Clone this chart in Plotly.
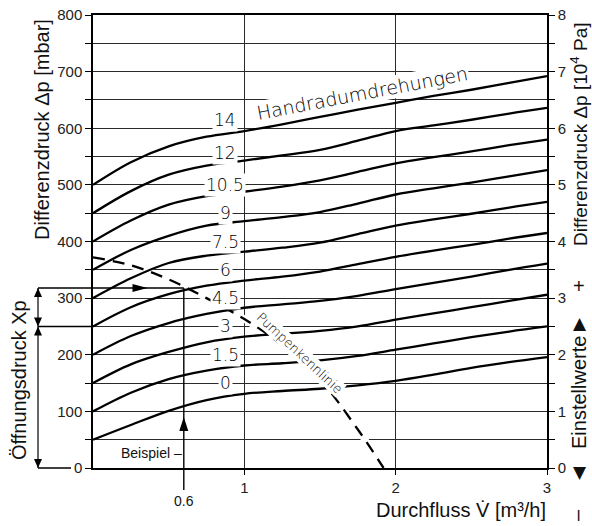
import plotly.graph_objects as go

# ---------------- data ----------------
flow = [0, 0.25, 0.5, 0.75, 1.0, 1.25, 1.5, 1.75, 2.0, 2.25, 2.5, 2.75, 3.0]

turn_labels = ["0", "1.5", "3", "4.5", "6", "7.5", "9", "10.5", "12", "14"]
dp_0    = [50, 76, 101, 120, 131, 136, 140, 146, 154, 165, 177, 187, 196]
dp_1_5  = [100, 133, 157, 172, 181, 185, 190, 198, 209, 220, 231, 241, 250]
dp_3    = [150, 183, 205, 222, 232, 237, 242, 250, 262, 273, 284, 295, 306]
dp_4_5  = [200, 233, 256, 272, 283, 289, 295, 304, 316, 327, 338, 350, 361]
dp_6    = [250, 284, 307, 322, 331, 338, 347, 360, 373, 384, 394, 405, 415]
dp_7_5  = [300, 335, 362, 375, 382, 389, 398, 413, 428, 439, 449, 460, 470]
dp_9    = [350, 385, 410, 428, 436, 443, 452, 467, 483, 494, 504, 515, 526]
dp_10_5 = [400, 437, 465, 480, 488, 497, 508, 523, 538, 549, 559, 570, 580]
dp_12   = [450, 489, 518, 534, 543, 552, 562, 578, 595, 605, 615, 626, 636]
dp_14   = [500, 540, 568, 585, 595, 607, 620, 633, 645, 657, 668, 680, 692]
turn_series = [dp_0, dp_1_5, dp_3, dp_4_5, dp_6, dp_7_5, dp_9, dp_10_5, dp_12, dp_14]

pump_flow = [0, 0.25, 0.5, 0.75, 1.0, 1.25, 1.5, 1.75, 1.92]
pump_dp   = [372, 358, 333, 300, 263, 217, 156, 68, 0]

example_flow = 0.6      # m3/h
example_dp = 318        # mbar
opening_dp = 250        # mbar (Xp)

x_ticks = [1, 2, 3]
y_ticks_mbar = [0, 100, 200, 300, 400, 500, 600, 700, 800]
y_ticks_pa = [0, 1, 2, 3, 4, 5, 6, 7, 8]

# ---------------- layout geometry ----------------
W, H = 592, 526
ML, MR, MT, MB = 93, 45, 15, 58
PW, PH = W - ML - MR, H - MT - MB
X_RANGE = [0, 3]
Y_RANGE = [0, 800]


def fx(v):
    return (v - X_RANGE[0]) / (X_RANGE[1] - X_RANGE[0])


def fy(v):
    return (v - Y_RANGE[0]) / (Y_RANGE[1] - Y_RANGE[0])


def ppx(px):   # pixel x -> paper
    return (px - ML) / PW


def ppy(py):   # pixel y -> paper
    return (H - MB - py) / PH


def tri(xp, yp, direction, length, width):
    hw = width / 2.0
    if direction == "up":
        pts = [(0, 0), (-hw, -length), (hw, -length)]
    elif direction == "down":
        pts = [(0, 0), (-hw, length), (hw, length)]
    elif direction == "right":
        pts = [(0, 0), (-length, -hw), (-length, hw)]
    else:
        pts = [(0, 0), (length, -hw), (length, hw)]
    coords = [(xp + dx / PW, yp + dy / PH) for dx, dy in pts]
    path = "M {:.5f},{:.5f} L {:.5f},{:.5f} L {:.5f},{:.5f} Z".format(*[c for p in coords for c in p])
    return dict(type="path", xref="paper", yref="paper", path=path,
                fillcolor="black", line=dict(width=0), layer="above")


def seg(x0, y0, x1, y1, w=1.4):
    return dict(type="line", xref="paper", yref="paper", x0=x0, y0=y0, x1=x1, y1=y1,
                line=dict(color="black", width=w), layer="above")


fig = go.Figure()

# white halo under pump characteristic (interrupts grid lines)
fig.add_trace(go.Scatter(x=pump_flow, y=pump_dp, mode="lines",
                         line=dict(color="white", width=7, shape="spline"),
                         hoverinfo="skip", showlegend=False))

for lab, ser in zip(turn_labels, turn_series):
    fig.add_trace(go.Scatter(x=flow, y=ser, mode="lines", name=lab,
                             line=dict(color="black", width=2.3, shape="spline", smoothing=1.0),
                             showlegend=False))

fig.add_trace(go.Scatter(x=pump_flow, y=pump_dp, mode="lines", name="Pumpenkennlinie",
                         line=dict(color="black", width=2.3, dash="12px,8px", shape="spline"),
                         showlegend=False))

# dummy trace for the right axis
fig.add_trace(go.Scatter(x=[None], y=[None], yaxis="y2", showlegend=False, hoverinfo="skip"))

label_font = dict(family="DejaVu Sans", size=17, color="#000", weight=300)
annotations = []
for lab, ser in zip(turn_labels, turn_series):
    yshift = 0
    if lab == "14":
        yshift = 8
    elif lab == "12":
        yshift = 4
    annotations.append(dict(x=0.875, y=ser[0] + 100, xref="x", yref="y", text=lab,
                            showarrow=False, font=label_font, bgcolor="white",
                            borderpad=1, yshift=yshift))

annotations.append(dict(x=1.78, y=662, xref="x", yref="y", text="Handradumdrehungen",
                        showarrow=False, textangle=-10.8, bgcolor="white", borderpad=0,
                        font=dict(family="DejaVu Sans", size=19, color="#000", weight=300)))
annotations.append(dict(x=1.37, y=203, xref="x", yref="y", text="Pumpenkennlinie",
                        showarrow=False, textangle=43, bgcolor="white", borderpad=0,
                        font=dict(family="DejaVu Sans", size=13, color="#000", weight=300)))


def txt(px, py, text, size=20, angle=0, family="Liberation Sans", **kw):
    d = dict(x=ppx(px), y=ppy(py), xref="paper", yref="paper", text=text,
             textangle=angle, showarrow=False, xanchor="center", yanchor="middle",
             font=dict(family=family, size=size, color="#111"))
    d.update(kw)
    return d


annotations += [
    txt(42, 130, "Differenzdruck Δp [mbar]", angle=-90),
    txt(19, 380, "Öffnungsdruck Xp", angle=-90),
    txt(579, 134, "Differenzdruck Δp [10<sup>4</sup> Pa]", size=19, angle=-90),
    txt(579, 286, "+"),
    txt(580, 323, "▲", size=17, family="DejaVu Sans"),
    txt(579, 393, "Einstellwerte", angle=-90),
    txt(580, 472, "▼", size=17, family="DejaVu Sans"),
    txt(577, 515, "–", angle=-90),
    txt(461, 510, "Durchfluss V̇ [m³/h]"),
    dict(x=fx(example_flow), y=ppy(501), xref="paper", yref="paper", text="0.6",
         showarrow=False, xanchor="center", yanchor="middle",
         font=dict(family="Liberation Sans", size=14, color="#111")),
    dict(x=fx(example_flow), y=fy(27), xref="paper", yref="paper", text="Beispiel –",
         xanchor="right", yanchor="middle", showarrow=False,
         font=dict(family="Liberation Sans", size=14, color="#111")),
]

# construction lines of the example / opening pressure
xd = ppx(38)
xe = fx(example_flow)
shapes = [
    seg(xe, ppy(490), xe, fy(example_dp)),                 # vertical example line
    seg(xd, fy(example_dp), xe, fy(example_dp)),           # horizontal example line
    seg(xd, fy(opening_dp), 0, fy(opening_dp)),            # Xp line extension
    seg(xd, fy(0), ppx(71), fy(0)),                        # zero line extension
    seg(xd, fy(0), xd, fy(example_dp), w=1.2),             # dimension line
    tri(xe, fy(90), "up", 14, 9),
    tri(fx(0.36), fy(example_dp), "right", 15, 8),
    tri(xd, fy(example_dp), "up", 9, 8),
    tri(xd, fy(opening_dp), "down", 9, 8),
    tri(xd, fy(opening_dp), "up", 9, 8),
    tri(xd, fy(0), "down", 9, 8),
]

grid_col = "#2a2a2a"
fig.update_layout(
    width=W, height=H,
    margin=dict(l=ML, r=MR, t=MT, b=MB, autoexpand=False),
    plot_bgcolor="white", paper_bgcolor="white",
    font=dict(family="Liberation Sans", size=15, color="#222"),
    showlegend=False,
    xaxis=dict(range=X_RANGE, tickvals=x_ticks, ticktext=[str(v) for v in x_ticks],
               ticks="outside", ticklen=5, tickcolor="black", tickwidth=1.2,
               showgrid=True, gridcolor=grid_col, gridwidth=1.3, automargin=False,
               showline=True, linecolor="black", linewidth=1.5, mirror=True,
               zeroline=False, tickfont=dict(size=15)),
    yaxis=dict(range=Y_RANGE, tickvals=y_ticks_mbar, ticktext=[str(v) for v in y_ticks_mbar],
               ticks="outside", ticklen=6, tickcolor="black", tickwidth=1.2, automargin=False,
               showgrid=True, gridcolor=grid_col, gridwidth=1.3,
               minor=dict(dtick=50, ticks="outside", ticklen=6, tickcolor="black",
                          tickwidth=1.2, showgrid=True, gridcolor=grid_col, gridwidth=1.3),
               showline=True, linecolor="black", linewidth=1.5,
               zeroline=False, tickfont=dict(size=15)),
    yaxis2=dict(range=[v / 100 for v in Y_RANGE], overlaying="y", side="right",
                tickvals=y_ticks_pa, ticktext=[str(v) for v in y_ticks_pa], automargin=False,
                ticks="outside", ticklen=6, tickcolor="black", tickwidth=1.2,
                minor=dict(dtick=0.5, ticks="outside", ticklen=6, tickcolor="black", tickwidth=1.2),
                showgrid=False, showline=True, linecolor="black", linewidth=1.5,
                zeroline=False, tickfont=dict(size=15)),
    annotations=annotations,
    shapes=shapes,
)

fig.write_html("out.html", config={"displayModeBar": False},
               post_script="document.body.style.margin='0';document.body.style.overflow='hidden';")
